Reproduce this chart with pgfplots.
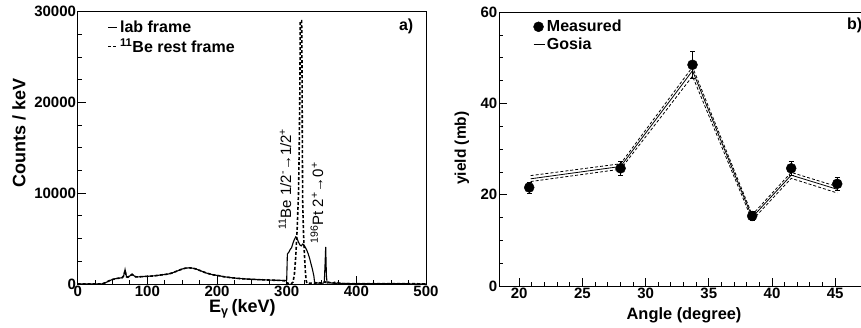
\documentclass[border=0pt]{standalone}
\usepackage{fontspec}
\setmainfont{Liberation Sans}
\usepackage{pgfplots}
\pgfplotsset{compat=1.18}
\newcommand{\fs}[1]{\fontsize{#1}{#1}\selectfont}
\pgfplotsset{
  rootstyle/.style={
    scale only axis,
    tick pos=left, tick align=inside,
    major tick length=8pt, minor tick length=4pt,
    axis line style={line width=1pt},
    every tick/.style={black, line width=0.9pt},
    scaled ticks=false,
    /pgf/number format/assume math mode=true,
    ticklabel style={font=\bfseries\fs{15}},
    yticklabel style={inner xsep=1.5pt},
    xticklabel style={inner ysep=2pt},
  },
  shortline/.style={legend image code/.code={\draw[##1] (0pt,0pt) -- (#1,0pt);}},
  markimg/.style={legend image code/.code={\draw[##1] plot coordinates {(5pt,0pt)};}},
}
\begin{document}
\begin{tikzpicture}
\useasboundingbox (0pt,0pt) rectangle (861pt,327pt);
\begin{axis}[rootstyle,
  at={(77.7pt,43pt)}, anchor=origin, width=348.3pt, height=272.3pt,
  xmin=0, xmax=500, ymin=0, ymax=30000,
  xtick={0,100,200,300,400,500}, minor x tick num=3,
  ytick={0,10000,20000,30000}, yticklabels={0,10000,20000,30000}, minor y tick num=3,
  xlabel={E\textsubscript{γ}\,(keV)},
  xlabel style={font=\bfseries\fs{18}, at={(axis description cs:0.473,-0.092)}, anchor=center},
  ylabel={Counts / keV},
  ylabel style={font=\bfseries\fs{18}, at={(axis description cs:-0.1685,0.556)}, anchor=center},
  legend style={draw=none, fill=none, at={(axis description cs:0.085,0.975)}, anchor=north west,
    font=\bfseries\fs{16}, inner sep=0pt, row sep=1pt, cells={anchor=west}},
  shortline=9pt,
]
\addplot[black, line width=1.1pt] coordinates {
(0,0)(30,0)(35,20)(40,150)(45,350)(50,500)(55,600)(60,650)(64,700)(66,900)(68,1600)(69,1200)(70,800)(72,750)(75,900)(78,1100)(80,950)(83,800)(86,780)(90,800)(95,830)(100,850)(105,870)(110,900)(115,950)(120,1000)(125,1050)(130,1100)(135,1200)(140,1350)(145,1500)(150,1650)(155,1750)(160,1780)(165,1750)(170,1650)(175,1500)(180,1350)(185,1200)(190,1100)(195,1000)(200,950)(205,880)(210,800)(215,750)(220,700)(230,620)(240,560)(250,520)(260,480)(270,450)(280,420)(290,400)(298,380)(300,400)(301,3300)(303,3500)(305,3800)(307,4000)(309,4500)(311,4900)(313,5200)(315,5000)(317,4600)(319,4300)(321,4200)(323,4400)(325,4300)(327,4000)(329,3700)(331,3300)(333,2800)(335,2200)(337,1600)(339,900)(340,200)(345,100)(350,80)(353,100)(354,200)(355,2000)(356,4100)(357,1000)(358,100)(362,150)(365,100)(370,80)(375,100)(380,60)(390,50)(400,40)(420,40)(440,30)(460,30)(480,20)(500,20)
};
\addlegendentry{lab frame}
\addplot[black, line width=1.6pt, dash pattern=on 3pt off 2pt] coordinates {
(0,0)(30,0)(35,20)(40,150)(45,350)(50,500)(55,600)(60,650)(64,700)(66,900)(68,1500)(69,1100)(70,800)(72,750)(75,900)(78,1050)(80,950)(83,800)(86,780)(90,800)(95,830)(100,850)(105,870)(110,900)(115,950)(120,1000)(125,1050)(130,1100)(135,1200)(140,1350)(145,1500)(150,1650)(155,1750)(160,1780)(165,1750)(170,1650)(175,1500)(180,1350)(185,1200)(190,1100)(195,1000)(200,950)(205,880)(210,800)(215,750)(220,700)(230,620)(240,560)(250,520)(260,480)(270,450)(280,420)(290,400)(298,350)(300,150)(303,50)(306,0)(309,200)(311,1000)(313,3000)(315,6000)(317,10000)(318,15000)(319,22000)(319.5,29000)(321.5,29000)(322,24000)(322.5,15000)(323,9000)(324,6000)(325,4000)(326,2500)(327,1200)(328,400)(329,100)(340,80)(345,150)(350,100)(355,250)(357,100)(360,200)(365,80)(370,200)(375,100)(380,50)(400,40)(450,30)(500,20)
};
\addlegendentry{\textsuperscript{11}Be rest frame}
\node[rotate=90, anchor=west, font=\fs{15}] at (axis cs:297.6,5600) {\textsuperscript{11}Be 1/2\textsuperscript{-}→1/2\textsuperscript{+}};
\node[rotate=90, anchor=west, font=\fs{15}] at (axis cs:343.5,4070) {\textsuperscript{196}Pt 2\textsuperscript{+}→0\textsuperscript{+}};
\node[anchor=west, font=\bfseries\fs{16}, inner sep=0pt] at (axis cs:461,28350) {a)};
\end{axis}

\begin{axis}[rootstyle,
  at={(499pt,41pt)}, anchor=south west, width=365pt, height=273.7pt,
  xmin=18.4, xmax=47.28, ymin=0, ymax=60,
  xtick={20,25,30,35,40,45}, minor x tick num=4,
  ytick={0,20,40,60}, minor y tick num=3,
  xlabel={Angle (degree)},
  xlabel style={font=\bfseries\fs{16.4}, at={(axis description cs:0.507,-0.106)}, anchor=center},
  ylabel={yield (mb)},
  ylabel style={font=\bfseries\fs{15.5}, at={(axis description cs:-0.102,0.504)}, anchor=center},
  legend style={draw=none, fill=none, at={(axis description cs:0.093,0.979)}, anchor=north west,
    font=\bfseries\fs{16}, inner sep=0pt, row sep=1pt, cells={anchor=west}},
  shortline=11pt,
]
\addplot[black, only marks, mark=*, mark size=5pt, markimg,
  error bars/.cd, y dir=both, y explicit,
  error bar style={line width=0.8pt},
  error mark options={rotate=90, mark size=2.5pt, line width=0.8pt}]
  coordinates {
  (20.79,21.6) +- (0,1.2)
  (28.02,25.8) +- (0,1.5)
  (33.71,48.5) +- (0,3.0)
  (38.43,15.35) +- (0,0.9)
  (41.52,25.8) +- (0,1.6)
  (45.16,22.4) +- (0,1.4)
};
\addlegendentry{Measured}
\addplot[black, line width=0.8pt] coordinates {
(20.9,23.5)(28.02,26.2)(33.71,47.2)(38.43,15.06)(41.52,24.3)(45.16,21.2)
};
\addlegendentry{Gosia}
\addplot[black, line width=0.8pt, dash pattern=on 3pt off 2pt, forget plot] coordinates {
(20.9,24.2)(28.02,26.8)(33.71,48.0)(38.43,15.6)(41.52,24.9)(45.16,21.8)
};
\addplot[black, line width=0.8pt, dash pattern=on 3pt off 2pt, forget plot] coordinates {
(20.9,22.9)(28.02,25.6)(33.71,46.0)(38.43,14.4)(41.52,23.6)(45.16,20.4)
};
\node[anchor=west, font=\bfseries\fs{16}, inner sep=0pt] at (axis cs:45.93,57.2) {b)};
\end{axis}
\end{tikzpicture}
\end{document}
